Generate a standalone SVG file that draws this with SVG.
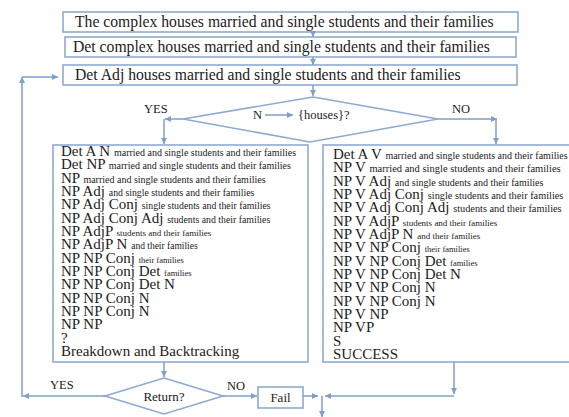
<svg xmlns="http://www.w3.org/2000/svg" width="569" height="417" viewBox="0 0 569 417" font-family="'Liberation Serif', 'Times New Roman', serif">
<style>
.box{fill:#fff;stroke:#8eaad0;stroke-width:1.6}
.ln{fill:none;stroke:#7f9fca;stroke-width:1.5}
text{font-family:'Liberation Serif','Times New Roman',serif;fill:#222}
.big{font-size:15.7px}
.col{font-size:15px}
.lbl{font-size:12.5px}
</style>
<defs>
<marker id="ah" viewBox="0 0 10 10" refX="10" refY="5" markerWidth="7" markerHeight="6" markerUnits="userSpaceOnUse" orient="auto">
<path d="M0,0 L10,5 L0,10 z" fill="#7f9fca"/>
</marker>
</defs>
<rect width="569" height="417" fill="#fff"/>

<g id="box1"><rect class="box" x="63" y="12" width="455" height="20"/><text class="big" x="75" y="27">The complex houses married and single students and their families</text></g>
<g id="box2"><rect class="box" x="65" y="37" width="451" height="20"/><text class="big" x="73" y="52">Det complex houses married and single students and their families</text></g>
<g id="box3"><rect class="box" x="63" y="65" width="454" height="20"/><text class="big" x="75" y="80">Det Adj houses married and single students and their families</text></g>

<g id="decision1"><polygon class="box" points="313,97 438,119 310,142 183,119"/>
<text font-size="12.5" x="253" y="119">N</text>
<line class="ln" x1="265" y1="115" x2="293" y2="115" marker-end="url(#ah)"/>
<text font-size="12.5" x="298" y="119">{houses}?</text></g>

<g id="leftbox"><rect class="box" x="53" y="145" width="255" height="217"/>
<text class="col" x="61" y="156">Det A N <tspan font-size="10">married and single students and their families</tspan></text>
<text class="col" x="61" y="169.3">Det NP <tspan font-size="10">married and single students and their families</tspan></text>
<text class="col" x="61" y="182.7">NP <tspan font-size="10">married and single students and their families</tspan></text>
<text class="col" x="61" y="196">NP Adj <tspan font-size="9.8">and single students and their families</tspan></text>
<text class="col" x="61" y="209.3">NP Adj Conj <tspan font-size="9.8">single students and their families</tspan></text>
<text class="col" x="61" y="222.7">NP Adj Conj Adj <tspan font-size="9.8">students and their families</tspan></text>
<text class="col" x="61" y="236">NP AdjP <tspan font-size="9">students and their families</tspan></text>
<text class="col" x="61" y="249.3">NP AdjP N <tspan font-size="9.5">and their families</tspan></text>
<text class="col" x="61" y="262.7">NP NP Conj <tspan font-size="8.5">their families</tspan></text>
<text class="col" x="61" y="276">NP NP Conj Det <tspan font-size="8.5">families</tspan></text>
<text class="col" x="61" y="289.3">NP NP Conj Det N</text>
<text class="col" x="61" y="302.7">NP NP Conj N</text>
<text class="col" x="61" y="316">NP NP Conj N</text>
<text class="col" x="61" y="329.3">NP NP</text>
<text class="col" x="61" y="342.7">?</text>
<text class="col" x="61" y="356">Breakdown and Backtracking</text></g>

<g id="rightbox"><rect class="box" x="323" y="145" width="270" height="217"/>
<text class="col" x="333" y="159">Det A V <tspan font-size="10">married and single students and their families</tspan></text>
<text class="col" x="333" y="172.3">NP V <tspan font-size="10.5">married and single students and their families</tspan></text>
<text class="col" x="333" y="185.7">NP V Adj <tspan font-size="10">and single students and their families</tspan></text>
<text class="col" x="333" y="199">NP V Adj Conj <tspan font-size="10.3">single students and their families</tspan></text>
<text class="col" x="333" y="212.3">NP V Adj Conj Adj <tspan font-size="10.3">students and their families</tspan></text>
<text class="col" x="333" y="225.7">NP V AdjP <tspan font-size="9">students and their families</tspan></text>
<text class="col" x="333" y="239">NP V AdjP N <tspan font-size="9">and their families</tspan></text>
<text class="col" x="333" y="252.3">NP V NP Conj <tspan font-size="8.5">their families</tspan></text>
<text class="col" x="333" y="265.7">NP V NP Conj Det <tspan font-size="8.5">families</tspan></text>
<text class="col" x="333" y="279">NP V NP Conj Det N</text>
<text class="col" x="333" y="292.3">NP V NP Conj N</text>
<text class="col" x="333" y="305.7">NP V NP Conj N</text>
<text class="col" x="333" y="319">NP V NP</text>
<text class="col" x="333" y="332.3">NP VP</text>
<text class="col" x="333" y="345.7">S</text>
<text class="col" x="333" y="359">SUCCESS</text></g>

<g id="decision2"><polygon class="box" points="164,378 223,396 164,414 105,396"/>
<text font-size="13" x="164" y="401" text-anchor="middle">Return?</text></g>

<g id="fail"><rect class="box" x="258" y="387" width="45" height="21"/>
<text font-size="13" x="280.5" y="402" text-anchor="middle">Fail</text></g>

<g id="connectors">
<line class="ln" x1="313" y1="32" x2="313" y2="37" marker-end="url(#ah)"/>
<line class="ln" x1="313" y1="57" x2="313" y2="65" marker-end="url(#ah)"/>
<line class="ln" x1="313" y1="85" x2="313" y2="96" marker-end="url(#ah)"/>
<line class="ln" x1="183" y1="119" x2="165" y2="119" marker-end="url(#ah)"/>
<line class="ln" x1="164" y1="119" x2="164" y2="144" marker-end="url(#ah)"/>
<line class="ln" x1="438" y1="119" x2="497" y2="119" marker-end="url(#ah)"/>
<line class="ln" x1="496" y1="119" x2="496" y2="144" marker-end="url(#ah)"/>
<line class="ln" x1="164" y1="362" x2="164" y2="377" marker-end="url(#ah)"/>
<line class="ln" x1="223" y1="396" x2="257" y2="396" marker-end="url(#ah)"/>
<line class="ln" x1="303" y1="396" x2="318" y2="396" marker-end="url(#ah)"/>
<line class="ln" x1="454" y1="362" x2="454" y2="394" marker-end="url(#ah)"/>
<line class="ln" x1="454" y1="396" x2="325" y2="396" marker-end="url(#ah)"/>
<line class="ln" x1="322" y1="396" x2="322" y2="417" marker-end="url(#ah)"/>
<line class="ln" x1="105" y1="396" x2="23" y2="396" marker-end="url(#ah)"/>
<line class="ln" x1="22" y1="397" x2="22" y2="77" marker-end="url(#ah)"/>
<line class="ln" x1="22" y1="77" x2="58" y2="77" marker-end="url(#ah)"/>
<text class="lbl" x="144" y="113">YES</text>
<text class="lbl" x="452" y="113">NO</text>
<text class="lbl" x="50" y="389">YES</text>
<text class="lbl" x="227" y="390">NO</text>
</g>
</svg>
